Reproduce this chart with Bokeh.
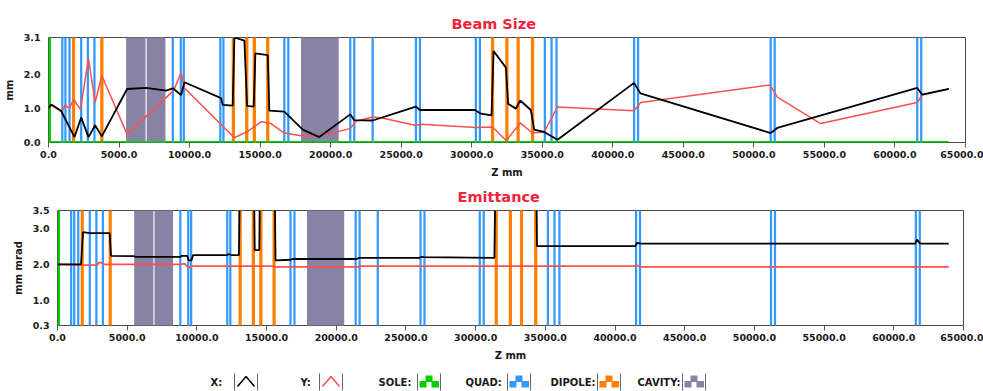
from bokeh.plotting import figure
from bokeh.models import ColumnDataSource, FixedTicker, PrintfTickFormatter, Range1d
from bokeh.embed import file_html
from bokeh.resources import INLINE
from bokeh.core.properties import value

# ---------------- data ----------------
# lattice elements (z in mm)
quad_z = [980, 1200, 1490, 2317, 2790, 3258, 8811, 9380, 9590, 12180, 12400,
          16716, 17000, 21390, 21675, 22977, 26045, 26330, 30295, 30578,
          35183, 35656, 36010, 41508, 41791, 51190, 51475, 61580, 61863]
dipole_z = [1775, 3782, 13105, 14053, 14590, 15540, 31476, 32490, 33290, 34310]
cavity_start = [5500, 6960, 17900]
cavity_end = [6880, 8290, 20570]
sole_start = [0]
sole_end = [180]

# beam size (mm)
bx_z = [0, 200, 900, 1842, 2314, 2833, 3306, 3778, 5572, 6918, 8337, 8811, 9398, 9636,
        12233, 12352, 13058, 13176, 13885, 14075, 14546, 14664, 15540, 15654, 16716,
        18020, 19195, 21390, 21674, 22977, 26045, 26328, 30224, 30650, 31405, 31547,
        32420, 32583, 33128, 33433, 34191, 34427, 35133, 36081, 41508, 41960, 51190,
        51663, 61580, 61934, 63820]
bx_v = [1.02, 1.12, 0.93, 0.16, 0.74, 0.16, 0.51, 0.18, 1.58, 1.61, 1.53, 1.60, 1.40, 1.78,
        1.31, 1.11, 1.09, 3.10, 3.01, 1.08, 1.06, 2.63, 2.58, 0.94, 0.91,
        0.38, 0.16, 0.83, 0.66, 0.65, 1.06, 0.96, 0.96, 0.85, 0.80, 2.70,
        2.21, 1.14, 1.00, 1.24, 0.96, 0.38, 0.31, 0.08, 1.76, 1.45, 0.28,
        0.43, 1.61, 1.41, 1.58]
by_z = [0, 200, 900, 1015, 1181, 1370, 1488, 1795, 1960, 2267, 2833, 3306, 3778, 5572,
        8878, 9398, 9634, 13176, 14122, 15066, 15774, 16716, 17900, 19195, 21390, 21793,
        22977, 23802, 26045, 26400, 30295, 31476, 32450, 33433, 34310, 35133, 36081,
        41508, 41980, 51143, 51663, 54731, 61580, 61934, 63820]
by_v = [1.02, 1.10, 0.93, 0.96, 1.11, 1.04, 1.01, 1.28, 1.16, 0.98, 2.48, 1.18, 1.98, 0.24,
        1.54, 2.06, 1.61, 0.14, 0.33, 0.61, 0.56, 0.28, 0.20, 0.19, 0.41, 0.63,
        0.75, 0.71, 0.50, 0.54, 0.44, 0.46, 0.05, 0.58, 0.28, 0.31, 1.05,
        0.94, 1.18, 1.70, 1.34, 0.56, 1.18, 1.41, 1.58]
sole_line_z = [0, 63820]
sole_line_v = [0.0, 0.0]

# emittance (mm mrad)
ex_z = [0, 1690, 1830, 2300, 3740, 3836, 5466, 5600, 8821, 8900, 9300, 9420, 9600, 9731,
        12178, 12300, 12450, 13015, 13087, 14091, 14150, 14480, 14522, 15579, 15640,
        16729, 16850, 21474, 21600, 25953, 26100, 26300, 31344, 31420, 34341, 34400,
        41450, 41600, 41840, 61539, 61659, 61898, 63940]
ex_v = [2.00, 2.00, 2.90, 2.87, 2.87, 2.24, 2.23, 2.21, 2.21, 2.24, 2.24, 2.11, 2.11, 2.26,
        2.26, 2.29, 2.26, 2.26, 4.50, 4.50, 2.40, 2.40, 4.50, 4.50, 2.11,
        2.13, 2.15, 2.15, 2.18, 2.18, 2.21, 2.20, 2.18, 4.50, 4.50, 2.51,
        2.51, 2.60, 2.58, 2.58, 2.69, 2.58, 2.58]
ey_z = [0, 1700, 2850, 2950, 3200, 3300, 8821, 9100, 9420, 9650, 15550, 15650, 21550,
        21700, 41450, 41600, 41800, 63940]
ey_v = [2.00, 1.98, 1.98, 2.05, 2.05, 2.00, 2.00, 2.02, 1.91, 1.95, 1.95, 1.93, 1.93,
        1.95, 1.95, 1.97, 1.93, 1.93]

x_ticks = list(range(0, 65001, 5000))
size_ticks = [0.0, 1.0, 2.0, 3.1]
emit_ticks = [0.3, 1.0, 2.0, 3.0, 3.5]

legend_labels = ["X:", "Y:", "SOLE:", "QUAD:", "DIPOLE:", "CAVITY:"]

# ---------------- styles ----------------
C_QUAD = "#3399ff"
C_DIPOLE = "#ff8000"
C_CAV = "#8782a6"
C_SOLE = "#00d000"
C_X = "#000000"
C_Y = "#ff4f4f"
C_TITLE = "#f0233a"
FONT = "DejaVu Sans"
QUAD_W = 160
DIPOLE_W = 230
W = 983


def make_plot(title, ylab, yr, yticks, h, bl, br, bt, bb, toff):
    p = figure(width=W, height=h, x_range=Range1d(0, 65000), y_range=Range1d(*yr),
               output_backend="svg", toolbar_location=None, title=title,
               min_border_left=bl, min_border_right=br, min_border_top=bt,
               min_border_bottom=bb)
    p.title.text_font = FONT
    p.title.text_font_style = "bold"
    p.title.text_font_size = "14.5px"
    p.title.text_color = C_TITLE
    p.title.align = "left"
    p.title.offset = toff
    p.title.standoff = 12
    p.grid.visible = False
    p.outline_line_color = "#4a4a4a"
    p.outline_line_width = 1
    p.background_fill_color = "white"
    p.border_fill_color = "white"

    ax = p.xaxis[0]
    ax.ticker = FixedTicker(ticks=x_ticks)
    ax.formatter = PrintfTickFormatter(format="%.1f")
    ax.axis_label = "Z mm"
    ax.axis_line_color = None
    ax.major_tick_out = 5
    ax.major_tick_in = 0
    ax.minor_tick_out = 0
    ax.minor_tick_in = 0
    ax.major_tick_line_color = "#555555"
    ax.major_label_standoff = 3
    ax.axis_label_standoff = 6

    ay = p.yaxis[0]
    ay.ticker = FixedTicker(ticks=yticks)
    ay.formatter = PrintfTickFormatter(format="%.1f")
    ay.axis_label = ylab
    ay.axis_line_color = None
    ay.major_tick_out = 0
    ay.major_tick_in = 0
    ay.minor_tick_out = 0
    ay.minor_tick_in = 0
    ay.major_label_standoff = 8
    ay.axis_label_standoff = 6

    for a in (ax, ay):
        a.major_label_text_font = FONT
        a.major_label_text_font_style = "bold"
        a.major_label_text_font_size = "9.5px"
        a.major_label_text_color = "#1a1a1a"
        a.axis_label_text_font = FONT
        a.axis_label_text_font_style = "bold"
        a.axis_label_text_font_size = "10px"
        a.axis_label_text_color = "#1a1a1a"

    lo, hi = yr[0] - 5, yr[1] + 5
    qs = ColumnDataSource(dict(l=[z - QUAD_W / 2 for z in quad_z], r=[z + QUAD_W / 2 for z in quad_z]))
    ds = ColumnDataSource(dict(l=[z - DIPOLE_W / 2 for z in dipole_z], r=[z + DIPOLE_W / 2 for z in dipole_z]))
    cs = ColumnDataSource(dict(l=cavity_start, r=cavity_end))
    ss = ColumnDataSource(dict(l=sole_start, r=sole_end))
    p.quad(left="l", right="r", bottom=lo, top=hi, source=cs, color=C_CAV, line_width=0)
    p.quad(left="l", right="r", bottom=lo, top=hi, source=qs, color=C_QUAD, line_width=0)
    p.quad(left="l", right="r", bottom=lo, top=hi, source=ds, color=C_DIPOLE, line_width=0)
    p.quad(left="l", right="r", bottom=lo, top=hi, source=ss, color=C_SOLE, line_width=0)
    return p


p1 = make_plot("Beam Size", "mm", (0.0, 3.1), size_ticks, 180, 47, 18, 37, 37, 403)
p1.line(by_z, by_v, line_color=C_Y, line_width=1.5)
p1.line(bx_z, bx_v, line_color=C_X, line_width=1.8)
p1.line(sole_line_z, sole_line_v, line_color=C_SOLE, line_width=3)

p2 = make_plot("Emittance", "mm mrad", (0.3, 3.5), emit_ticks, 183, 57, 20, 29, 37, 400)
p2.line(ey_z, ey_v, line_color=C_Y, line_width=1.8)
p2.line(ex_z, ex_v, line_color=C_X, line_width=1.8)

# ---------------- legend strip ----------------
LH = 28
p3 = figure(width=W, height=LH, x_range=Range1d(0, W), y_range=Range1d(LH, 0),
            output_backend="svg", toolbar_location=None,
            min_border_left=0, min_border_right=0, min_border_top=0, min_border_bottom=0)
p3.axis.visible = False
p3.grid.visible = False
p3.outline_line_color = None
p3.border_fill_color = "white"

text_x = [210, 300, 378, 465, 550, 637]
icon_x = [234, 319, 417, 507, 597, 682]
icon_kind = ["x", "y", C_SOLE, C_QUAD, C_DIPOLE, C_CAV]
p3.text(x=text_x, y=[19] * 6, text=legend_labels, text_font=value(FONT),
        text_font_style="bold", text_font_size="10px", text_baseline="middle",
        text_color="#1a1a1a")
for x0, kind in zip(icon_x, icon_kind):
    p3.segment(x0=[x0, x0 + 23], y0=[10, 10], x1=[x0, x0 + 23], y1=[27, 27],
               line_color="#666666", line_width=1)
    if kind in ("x", "y"):
        col = C_X if kind == "x" else C_Y
        p3.line([x0 + 3, x0 + 11.5, x0 + 20], [23, 13, 23], line_color=col, line_width=1.5)
    else:
        p3.quad(left=[x0 + 2, x0 + 8, x0 + 14], right=[x0 + 9, x0 + 15, x0 + 21.5],
                bottom=[24, 18.5, 24], top=[17.5, 12, 17.5], color=kind, line_width=0)

open("out.html", "w").write(file_html([p1, p2, p3], INLINE))
